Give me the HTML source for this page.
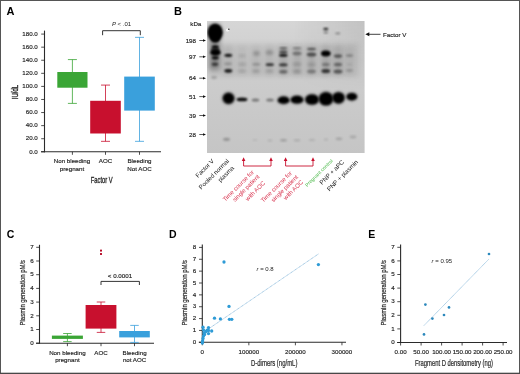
<!DOCTYPE html>
<html><head><meta charset="utf-8"><title>Figure</title>
<style>html,body{margin:0;padding:0;background:#fff}body{width:520px;height:374px;overflow:hidden}svg{display:block}</style>
</head><body>
<svg width="520" height="374" viewBox="0 0 520 374" font-family="Liberation Sans, sans-serif">
<defs>
<filter id="b1" x="-50%" y="-50%" width="200%" height="200%"><feGaussianBlur stdDeviation="0.9"/></filter>
<filter id="b2" x="-50%" y="-50%" width="200%" height="200%"><feGaussianBlur stdDeviation="1.4"/></filter>
<filter id="b3" x="-50%" y="-50%" width="200%" height="200%"><feGaussianBlur stdDeviation="2.5"/></filter>
<filter id="b0" x="-50%" y="-50%" width="200%" height="200%"><feGaussianBlur stdDeviation="0.6"/></filter>
<linearGradient id="bg" x1="0" y1="0" x2="0" y2="1"><stop offset="0" stop-color="#d6d6d6"/><stop offset="0.3" stop-color="#cecece"/><stop offset="1" stop-color="#c5c5c5"/></linearGradient>
<clipPath id="bc"><rect x="207" y="21" width="157.6" height="132"/></clipPath>
<linearGradient id="bgr" x1="0" y1="0" x2="1" y2="0"><stop offset="0" stop-color="#000" stop-opacity="0"/><stop offset="0.55" stop-color="#000" stop-opacity="0"/><stop offset="1" stop-color="#000" stop-opacity="0.09"/></linearGradient>
<linearGradient id="bgm" x1="0" y1="0" x2="0" y2="1"><stop offset="0" stop-color="#fff" stop-opacity="1"/><stop offset="1" stop-color="#fff" stop-opacity="0"/></linearGradient>
<mask id="mk"><rect x="207" y="21" width="157.6" height="70" fill="url(#bgm)"/></mask>
</defs>
<rect x="0" y="0" width="520" height="374" fill="#fff"/>
<text x="6.6" y="14.6" font-size="11" text-anchor="start" fill="#000" font-weight="bold">A</text>
<line x1="44.5" y1="30.6" x2="44.5" y2="152.35000000000002" stroke="#2b2b2b" stroke-width="1.1"/>
<line x1="41.0" y1="151.8" x2="161" y2="151.8" stroke="#2b2b2b" stroke-width="1.1"/>
<line x1="41.2" y1="151.8" x2="44.5" y2="151.8" stroke="#222" stroke-width="0.8"/>
<text x="37.8" y="153.55" font-size="6.2" text-anchor="end" fill="#222" stroke="#222" stroke-width="0.15">0.0</text>
<line x1="41.2" y1="138.72" x2="44.5" y2="138.72" stroke="#222" stroke-width="0.8"/>
<text x="37.8" y="140.47" font-size="6.2" text-anchor="end" fill="#222" stroke="#222" stroke-width="0.15">20.0</text>
<line x1="41.2" y1="125.64" x2="44.5" y2="125.64" stroke="#222" stroke-width="0.8"/>
<text x="37.8" y="127.39" font-size="6.2" text-anchor="end" fill="#222" stroke="#222" stroke-width="0.15">40.0</text>
<line x1="41.2" y1="112.56" x2="44.5" y2="112.56" stroke="#222" stroke-width="0.8"/>
<text x="37.8" y="114.31" font-size="6.2" text-anchor="end" fill="#222" stroke="#222" stroke-width="0.15">60.0</text>
<line x1="41.2" y1="99.48" x2="44.5" y2="99.48" stroke="#222" stroke-width="0.8"/>
<text x="37.8" y="101.23" font-size="6.2" text-anchor="end" fill="#222" stroke="#222" stroke-width="0.15">80.0</text>
<line x1="41.2" y1="86.4" x2="44.5" y2="86.4" stroke="#222" stroke-width="0.8"/>
<text x="37.8" y="88.15" font-size="6.2" text-anchor="end" fill="#222" stroke="#222" stroke-width="0.15">100.0</text>
<line x1="41.2" y1="73.32" x2="44.5" y2="73.32" stroke="#222" stroke-width="0.8"/>
<text x="37.8" y="75.07" font-size="6.2" text-anchor="end" fill="#222" stroke="#222" stroke-width="0.15">120.0</text>
<line x1="41.2" y1="60.24" x2="44.5" y2="60.24" stroke="#222" stroke-width="0.8"/>
<text x="37.8" y="61.99" font-size="6.2" text-anchor="end" fill="#222" stroke="#222" stroke-width="0.15">140.0</text>
<line x1="41.2" y1="47.16" x2="44.5" y2="47.16" stroke="#222" stroke-width="0.8"/>
<text x="37.8" y="48.91" font-size="6.2" text-anchor="end" fill="#222" stroke="#222" stroke-width="0.15">160.0</text>
<line x1="41.2" y1="34.08" x2="44.5" y2="34.08" stroke="#222" stroke-width="0.8"/>
<text x="37.8" y="35.83" font-size="6.2" text-anchor="end" fill="#222" stroke="#222" stroke-width="0.15">180.0</text>
<line x1="72.4" y1="151.8" x2="72.4" y2="154.8" stroke="#222" stroke-width="0.8"/>
<line x1="105.5" y1="151.8" x2="105.5" y2="154.8" stroke="#222" stroke-width="0.8"/>
<line x1="139.5" y1="151.8" x2="139.5" y2="154.8" stroke="#222" stroke-width="0.8"/>
<line x1="72.4" y1="59.59" x2="72.4" y2="103.4" stroke="#3aa535" stroke-width="0.8"/>
<line x1="67.9" y1="59.59" x2="76.9" y2="59.59" stroke="#3aa535" stroke-width="0.8"/>
<line x1="67.9" y1="103.4" x2="76.9" y2="103.4" stroke="#3aa535" stroke-width="0.8"/>
<rect x="57.300000000000004" y="72.01" width="30.2" height="15.699999999999989" fill="#3aa535"/>
<line x1="105.5" y1="85.09" x2="105.5" y2="141.34" stroke="#c8102e" stroke-width="0.8"/>
<line x1="101.0" y1="85.09" x2="110.0" y2="85.09" stroke="#c8102e" stroke-width="0.8"/>
<line x1="101.0" y1="141.34" x2="110.0" y2="141.34" stroke="#c8102e" stroke-width="0.8"/>
<rect x="90.2" y="100.79" width="30.6" height="32.7" fill="#c8102e"/>
<line x1="139.5" y1="37.35" x2="139.5" y2="141.34" stroke="#3aa0dc" stroke-width="0.8"/>
<line x1="135.0" y1="37.35" x2="144.0" y2="37.35" stroke="#3aa0dc" stroke-width="0.8"/>
<line x1="135.0" y1="141.34" x2="144.0" y2="141.34" stroke="#3aa0dc" stroke-width="0.8"/>
<rect x="124.2" y="76.59" width="30.6" height="34.00999999999999" fill="#3aa0dc"/>
<path d="M102.6 35.2V30.7H140.3V35.2" fill="none" stroke="#2a2a2a" stroke-width="0.95"/>
<text x="121.5" y="26" font-size="6" text-anchor="middle" fill="#222"><tspan font-style="italic">P</tspan> &lt; .01</text>
<text x="72" y="163.3" font-size="6.2" text-anchor="middle" fill="#222" stroke="#222" stroke-width="0.15">Non bleeding</text>
<text x="72" y="171.3" font-size="6.2" text-anchor="middle" fill="#222" stroke="#222" stroke-width="0.15">pregnant</text>
<text x="105.5" y="163.3" font-size="6.2" text-anchor="middle" fill="#222" stroke="#222" stroke-width="0.15">AOC</text>
<text x="139.5" y="163.3" font-size="6.2" text-anchor="middle" fill="#222" stroke="#222" stroke-width="0.15">Bleeding</text>
<text x="139.5" y="171.3" font-size="6.2" text-anchor="middle" fill="#222" stroke="#222" stroke-width="0.15">Not AOC</text>
<text x="101.7" y="183.3" font-size="8.4" text-anchor="middle" fill="#2e2e2e" stroke="#2e2e2e" stroke-width="0.35" textLength="21.8" lengthAdjust="spacingAndGlyphs">Factor V</text>
<text x="17.5" y="92" font-size="8.4" text-anchor="middle" fill="#2e2e2e" stroke="#2e2e2e" stroke-width="0.4" textLength="14.5" lengthAdjust="spacingAndGlyphs" transform="rotate(-90 17.5 92)">IU/dL</text>
<text x="174" y="14.6" font-size="11" text-anchor="start" fill="#000" font-weight="bold">B</text>
<text x="195.8" y="26.2" font-size="6.2" text-anchor="middle" fill="#222" stroke="#222" stroke-width="0.15">kDa</text>
<text x="196" y="42.5" font-size="6.2" text-anchor="end" fill="#222" stroke="#222" stroke-width="0.15">198</text>
<line x1="199.3" y1="40.5" x2="203.5" y2="40.5" stroke="#111" stroke-width="0.7"/>
<path d="M206 40.5L203 39.2V41.8Z" fill="#111"/>
<text x="196" y="58.8" font-size="6.2" text-anchor="end" fill="#222" stroke="#222" stroke-width="0.15">97</text>
<line x1="199.3" y1="56.8" x2="203.5" y2="56.8" stroke="#111" stroke-width="0.7"/>
<path d="M206 56.8L203 55.5V58.099999999999994Z" fill="#111"/>
<text x="196" y="80.2" font-size="6.2" text-anchor="end" fill="#222" stroke="#222" stroke-width="0.15">64</text>
<line x1="199.3" y1="78.2" x2="203.5" y2="78.2" stroke="#111" stroke-width="0.7"/>
<path d="M206 78.2L203 76.9V79.5Z" fill="#111"/>
<text x="196" y="98.6" font-size="6.2" text-anchor="end" fill="#222" stroke="#222" stroke-width="0.15">51</text>
<line x1="199.3" y1="96.6" x2="203.5" y2="96.6" stroke="#111" stroke-width="0.7"/>
<path d="M206 96.6L203 95.3V97.89999999999999Z" fill="#111"/>
<text x="196" y="117.5" font-size="6.2" text-anchor="end" fill="#222" stroke="#222" stroke-width="0.15">39</text>
<line x1="199.3" y1="115.5" x2="203.5" y2="115.5" stroke="#111" stroke-width="0.7"/>
<path d="M206 115.5L203 114.2V116.8Z" fill="#111"/>
<text x="196" y="136.5" font-size="6.2" text-anchor="end" fill="#222" stroke="#222" stroke-width="0.15">28</text>
<line x1="199.3" y1="134.5" x2="203.5" y2="134.5" stroke="#111" stroke-width="0.7"/>
<path d="M206 134.5L203 133.2V135.8Z" fill="#111"/>
<rect x="207" y="21" width="157.6" height="132" fill="url(#bg)"/>
<rect x="207" y="21" width="157.6" height="70" fill="url(#bgr)" mask="url(#mk)"/>
<g clip-path="url(#bc)">
<rect x="209" y="43" width="150" height="34" fill="#000" opacity="0.06" filter="url(#b3)"/>
<rect x="223.5" y="46" width="9" height="29" fill="#000" opacity="0.07" filter="url(#b3)"/>
<rect x="237.5" y="46" width="9" height="29" fill="#000" opacity="0.04" filter="url(#b3)"/>
<rect x="251.5" y="46" width="9" height="29" fill="#000" opacity="0.05" filter="url(#b3)"/>
<rect x="265.0" y="46" width="9" height="29" fill="#000" opacity="0.06" filter="url(#b3)"/>
<rect x="279.0" y="46" width="9" height="29" fill="#000" opacity="0.12" filter="url(#b3)"/>
<rect x="292.5" y="46" width="9" height="29" fill="#000" opacity="0.1" filter="url(#b3)"/>
<rect x="307.0" y="46" width="9" height="29" fill="#000" opacity="0.11" filter="url(#b3)"/>
<rect x="321.3" y="46" width="9" height="29" fill="#000" opacity="0.12" filter="url(#b3)"/>
<rect x="333.5" y="46" width="9" height="29" fill="#000" opacity="0.1" filter="url(#b3)"/>
<rect x="345.0" y="46" width="9" height="29" fill="#000" opacity="0.05" filter="url(#b3)"/>
<rect x="209.0" y="24" width="11" height="46" fill="#000" opacity="0.3" filter="url(#b3)"/>
<ellipse cx="215.2" cy="32.6" rx="7.4" ry="8.6" fill="#000" opacity="1" filter="url(#b2)"/>
<ellipse cx="215.2" cy="32.3" rx="6.6" ry="7.8" fill="#000" opacity="1" filter="url(#b1)"/>
<ellipse cx="215.3" cy="38" rx="4.5" ry="4.5" fill="#000" opacity="0.9" filter="url(#b1)"/>
<ellipse cx="215.3" cy="46.9" rx="3.4" ry="1.6" fill="#000" opacity="0.95" filter="url(#b1)"/>
<ellipse cx="215.3" cy="49.8" rx="4.2" ry="2.5" fill="#000" opacity="0.6" filter="url(#b1)"/>
<ellipse cx="215.5" cy="52.5" rx="5.2" ry="3.3" fill="#000" opacity="1" filter="url(#b1)"/>
<ellipse cx="215.3" cy="57.8" rx="3.5" ry="1.8" fill="#000" opacity="0.9" filter="url(#b1)"/>
<ellipse cx="215" cy="64.3" rx="3.3" ry="1.7" fill="#000" opacity="0.6" filter="url(#b1)"/>
<ellipse cx="214" cy="77.5" rx="3" ry="1.4" fill="#000" opacity="0.2" filter="url(#b1)"/>
<ellipse cx="228.3" cy="55.3" rx="4.0" ry="1.6" fill="#000" opacity="0.9" filter="url(#b1)"/>
<ellipse cx="228" cy="63.8" rx="4" ry="1.4" fill="#000" opacity="0.2" filter="url(#b1)"/>
<ellipse cx="228.3" cy="70.8" rx="4.0" ry="1.9" fill="#000" opacity="0.88" filter="url(#b1)"/>
<ellipse cx="228.5" cy="98.3" rx="5.4" ry="5.2" fill="#000" opacity="1" filter="url(#b1)"/>
<ellipse cx="228.5" cy="98.3" rx="6.4" ry="6.2" fill="#000" opacity="0.5" filter="url(#b2)"/>
<ellipse cx="226.5" cy="139.3" rx="3.5" ry="1.6" fill="#000" opacity="0.26" filter="url(#b1)"/>
<ellipse cx="227.5" cy="30" rx="1.6" ry="1.6" fill="#f4f4f4" opacity="1" filter="url(#b0)"/>
<ellipse cx="228.8" cy="29.2" rx="0.9" ry="0.7" fill="#000" opacity="0.7" filter="url(#b0)"/>
<ellipse cx="242" cy="55.8" rx="4" ry="1.3" fill="#000" opacity="0.12" filter="url(#b2)"/>
<ellipse cx="242.3" cy="64.3" rx="4.2" ry="1.5" fill="#000" opacity="0.14" filter="url(#b2)"/>
<ellipse cx="242" cy="71.0" rx="4" ry="1.5" fill="#000" opacity="0.14" filter="url(#b2)"/>
<ellipse cx="242" cy="99.4" rx="5.4" ry="1.9" fill="#000" opacity="0.95" filter="url(#b1)"/>
<ellipse cx="256.5" cy="53.5" rx="3.4" ry="2.4" fill="#000" opacity="0.2" filter="url(#b2)"/>
<ellipse cx="256.3" cy="64.3" rx="4" ry="1.5" fill="#000" opacity="0.2" filter="url(#b1)"/>
<ellipse cx="256" cy="71.0" rx="3.8" ry="1.6" fill="#000" opacity="0.18" filter="url(#b2)"/>
<ellipse cx="255.5" cy="100" rx="3.8" ry="1.6" fill="#000" opacity="0.42" filter="url(#b1)"/>
<ellipse cx="255" cy="140" rx="2.5" ry="1" fill="#000" opacity="0.08" filter="url(#b1)"/>
<ellipse cx="269.5" cy="52.5" rx="3.8" ry="2.6" fill="#000" opacity="0.2" filter="url(#b2)"/>
<ellipse cx="269.8" cy="64.7" rx="4.2" ry="1.4" fill="#000" opacity="0.75" filter="url(#b1)"/>
<ellipse cx="269.5" cy="71.0" rx="4" ry="1.6" fill="#000" opacity="0.16" filter="url(#b2)"/>
<ellipse cx="270" cy="100" rx="3.8" ry="1.6" fill="#000" opacity="0.42" filter="url(#b1)"/>
<ellipse cx="270" cy="140.5" rx="2.5" ry="1" fill="#000" opacity="0.12" filter="url(#b1)"/>
<ellipse cx="283.3" cy="48.3" rx="4.0" ry="1.1" fill="#000" opacity="0.5" filter="url(#b1)"/>
<ellipse cx="283.3" cy="52.1" rx="4.2" ry="1.4" fill="#000" opacity="0.65" filter="url(#b1)"/>
<ellipse cx="283.3" cy="55.2" rx="4.3" ry="1.5" fill="#000" opacity="0.9" filter="url(#b1)"/>
<ellipse cx="283.3" cy="64.7" rx="4.3" ry="1.5" fill="#000" opacity="0.7" filter="url(#b1)"/>
<ellipse cx="283.3" cy="71.7" rx="4.2" ry="1.8" fill="#000" opacity="0.42" filter="url(#b1)"/>
<ellipse cx="283.6" cy="100.2" rx="5.8" ry="3.6" fill="#000" opacity="1" filter="url(#b1)"/>
<ellipse cx="283.6" cy="100.2" rx="6.8" ry="4.8" fill="#000" opacity="0.25" filter="url(#b2)"/>
<ellipse cx="283.5" cy="140.3" rx="3.4" ry="1.2" fill="#000" opacity="0.2" filter="url(#b1)"/>
<ellipse cx="297" cy="48.2" rx="4.4" ry="1.0" fill="#000" opacity="0.35" filter="url(#b1)"/>
<ellipse cx="297" cy="53.5" rx="4.6" ry="1.9" fill="#000" opacity="0.35" filter="url(#b1)"/>
<ellipse cx="297" cy="64.2" rx="4.4" ry="1.6" fill="#000" opacity="0.16" filter="url(#b2)"/>
<ellipse cx="297" cy="71.5" rx="4.2" ry="1.7" fill="#000" opacity="0.18" filter="url(#b2)"/>
<ellipse cx="297" cy="99.7" rx="6.3" ry="3.9" fill="#000" opacity="1" filter="url(#b1)"/>
<ellipse cx="297" cy="99.7" rx="7.2" ry="5" fill="#000" opacity="0.25" filter="url(#b2)"/>
<ellipse cx="297" cy="140.3" rx="3.4" ry="1.1" fill="#000" opacity="0.14" filter="url(#b1)"/>
<ellipse cx="311.5" cy="49.0" rx="4.6" ry="1.1" fill="#000" opacity="0.6" filter="url(#b1)"/>
<ellipse cx="311.5" cy="54.5" rx="4.8" ry="2" fill="#000" opacity="0.55" filter="url(#b1)"/>
<ellipse cx="311.5" cy="64.5" rx="4.2" ry="1.6" fill="#000" opacity="0.16" filter="url(#b2)"/>
<ellipse cx="311.5" cy="71.5" rx="4.4" ry="1.9" fill="#000" opacity="0.3" filter="url(#b1)"/>
<ellipse cx="312" cy="99.6" rx="6.7" ry="5.0" fill="#000" opacity="1" filter="url(#b1)"/>
<ellipse cx="312" cy="99.6" rx="7.6" ry="6" fill="#000" opacity="0.3" filter="url(#b2)"/>
<ellipse cx="312" cy="140" rx="3.2" ry="1.1" fill="#000" opacity="0.12" filter="url(#b1)"/>
<ellipse cx="325.8" cy="29" rx="2.6" ry="1.2" fill="#000" opacity="0.8" filter="url(#b1)"/>
<ellipse cx="325.8" cy="32.6" rx="2.4" ry="1" fill="#000" opacity="0.42" filter="url(#b1)"/>
<ellipse cx="325.8" cy="53.5" rx="4.8" ry="3" fill="#000" opacity="1" filter="url(#b1)"/>
<ellipse cx="325.8" cy="64.5" rx="4" ry="1.8" fill="#000" opacity="0.3" filter="url(#b1)"/>
<ellipse cx="325.8" cy="71.1" rx="4.4" ry="2" fill="#000" opacity="0.7" filter="url(#b1)"/>
<ellipse cx="326" cy="98.8" rx="7.1" ry="6.5" fill="#000" opacity="1" filter="url(#b1)"/>
<ellipse cx="326" cy="98.8" rx="8" ry="7.5" fill="#000" opacity="0.35" filter="url(#b2)"/>
<ellipse cx="326" cy="139.5" rx="2.2" ry="1" fill="#000" opacity="0.12" filter="url(#b1)"/>
<ellipse cx="337.8" cy="33.4" rx="2.6" ry="0.9" fill="#000" opacity="0.38" filter="url(#b1)"/>
<ellipse cx="338" cy="56.1" rx="4.2" ry="1.8" fill="#000" opacity="0.5" filter="url(#b1)"/>
<ellipse cx="338" cy="64.5" rx="4.2" ry="1.8" fill="#000" opacity="0.42" filter="url(#b1)"/>
<ellipse cx="338" cy="71.5" rx="4.4" ry="2" fill="#000" opacity="0.5" filter="url(#b1)"/>
<ellipse cx="338.5" cy="97.8" rx="6" ry="5.6" fill="#000" opacity="1" filter="url(#b1)"/>
<ellipse cx="338.5" cy="97.8" rx="7" ry="6.6" fill="#000" opacity="0.3" filter="url(#b2)"/>
<ellipse cx="339" cy="138.8" rx="3.4" ry="1.4" fill="#000" opacity="0.17" filter="url(#b1)"/>
<ellipse cx="349.5" cy="55.5" rx="3.6" ry="1.5" fill="#000" opacity="0.25" filter="url(#b1)"/>
<ellipse cx="349.5" cy="64.5" rx="3" ry="1.2" fill="#000" opacity="0.08" filter="url(#b1)"/>
<ellipse cx="349.5" cy="70.5" rx="3.4" ry="1.4" fill="#000" opacity="0.18" filter="url(#b1)"/>
<ellipse cx="351.8" cy="96.7" rx="5.3" ry="3.7" fill="#000" opacity="1" filter="url(#b1)"/>
<ellipse cx="351.8" cy="96.7" rx="6.3" ry="4.8" fill="#000" opacity="0.25" filter="url(#b2)"/>
<ellipse cx="353" cy="137" rx="3.4" ry="1.4" fill="#000" opacity="0.15" filter="url(#b1)"/>
</g>
<line x1="368" y1="34.3" x2="380.5" y2="34.3" stroke="#111" stroke-width="0.8"/>
<path d="M365.3 34.3L369.3 32.3V36.3Z" fill="#111"/>
<text x="383" y="36.5" font-size="6.2" text-anchor="start" fill="#222" stroke="#222" stroke-width="0.15">Factor V</text>
<text x="214.5" y="161.5" font-size="6.2" text-anchor="end" fill="#222" transform="rotate(-45 214.5 161.5)">Factor V</text>
<text x="229.5" y="161.5" font-size="6.2" text-anchor="end" fill="#222" transform="rotate(-45 229.5 161.5)">Pooled normal</text>
<text x="234.5" y="168.5" font-size="6.2" text-anchor="end" fill="#222" transform="rotate(-45 234.5 168.5)">plasma</text>
<text x="254.5" y="172.5" font-size="6" text-anchor="end" fill="#d83550" transform="rotate(-45 254.5 172.5)">Time course for</text>
<text x="260" y="177" font-size="6" text-anchor="end" fill="#d83550" transform="rotate(-45 260 177)">single patient</text>
<text x="265.5" y="183.5" font-size="6" text-anchor="end" fill="#d83550" transform="rotate(-45 265.5 183.5)">with AOC</text>
<text x="292.5" y="173.5" font-size="6" text-anchor="end" fill="#d83550" transform="rotate(-45 292.5 173.5)">Time course for</text>
<text x="298.5" y="177.5" font-size="6" text-anchor="end" fill="#d83550" transform="rotate(-45 298.5 177.5)">single patient</text>
<text x="303.5" y="182.5" font-size="6" text-anchor="end" fill="#d83550" transform="rotate(-45 303.5 182.5)">with AOC</text>
<text x="333.2" y="161.2" font-size="5" text-anchor="end" fill="#4ab848" transform="rotate(-45 333.2 161.2)">Pregnant control</text>
<text x="344.5" y="162.5" font-size="6.2" text-anchor="end" fill="#222" transform="rotate(-45 344.5 162.5)">PNP + aPC</text>
<text x="358.5" y="162.5" font-size="6.2" text-anchor="end" fill="#222" transform="rotate(-45 358.5 162.5)">PNP + plasmin</text>
<path d="M243.6 160V166H271V160" fill="none" stroke="#c8102e" stroke-width="0.9"/>
<path d="M243.6 157.3L241.79999999999998 161H245.4Z" fill="#c8102e"/>
<path d="M271 157.3L269.2 161H272.8Z" fill="#c8102e"/>
<path d="M285.6 160V166H313V160" fill="none" stroke="#c8102e" stroke-width="0.9"/>
<path d="M285.6 157.3L283.8 161H287.40000000000003Z" fill="#c8102e"/>
<path d="M313 157.3L311.2 161H314.8Z" fill="#c8102e"/>
<text x="6.8" y="238" font-size="10.5" text-anchor="start" fill="#000" font-weight="bold">C</text>
<line x1="39.5" y1="244.8" x2="39.5" y2="343.75" stroke="#2b2b2b" stroke-width="1.1"/>
<line x1="36.0" y1="343.2" x2="154" y2="343.2" stroke="#2b2b2b" stroke-width="1.1"/>
<line x1="36.2" y1="343.2" x2="39.5" y2="343.2" stroke="#222" stroke-width="0.8"/>
<text x="33.6" y="344.95" font-size="6.2" text-anchor="end" fill="#222" stroke="#222" stroke-width="0.15">0</text>
<line x1="36.2" y1="329.5" x2="39.5" y2="329.5" stroke="#222" stroke-width="0.8"/>
<text x="33.6" y="331.25" font-size="6.2" text-anchor="end" fill="#222" stroke="#222" stroke-width="0.15">1</text>
<line x1="36.2" y1="315.8" x2="39.5" y2="315.8" stroke="#222" stroke-width="0.8"/>
<text x="33.6" y="317.55" font-size="6.2" text-anchor="end" fill="#222" stroke="#222" stroke-width="0.15">2</text>
<line x1="36.2" y1="302.1" x2="39.5" y2="302.1" stroke="#222" stroke-width="0.8"/>
<text x="33.6" y="303.85" font-size="6.2" text-anchor="end" fill="#222" stroke="#222" stroke-width="0.15">3</text>
<line x1="36.2" y1="288.4" x2="39.5" y2="288.4" stroke="#222" stroke-width="0.8"/>
<text x="33.6" y="290.15" font-size="6.2" text-anchor="end" fill="#222" stroke="#222" stroke-width="0.15">4</text>
<line x1="36.2" y1="274.7" x2="39.5" y2="274.7" stroke="#222" stroke-width="0.8"/>
<text x="33.6" y="276.45" font-size="6.2" text-anchor="end" fill="#222" stroke="#222" stroke-width="0.15">5</text>
<line x1="36.2" y1="261.0" x2="39.5" y2="261.0" stroke="#222" stroke-width="0.8"/>
<text x="33.6" y="262.75" font-size="6.2" text-anchor="end" fill="#222" stroke="#222" stroke-width="0.15">6</text>
<line x1="36.2" y1="247.3" x2="39.5" y2="247.3" stroke="#222" stroke-width="0.8"/>
<text x="33.6" y="249.05" font-size="6.2" text-anchor="end" fill="#222" stroke="#222" stroke-width="0.15">7</text>
<line x1="67.4" y1="343.2" x2="67.4" y2="346.2" stroke="#222" stroke-width="0.8"/>
<line x1="101" y1="343.2" x2="101" y2="346.2" stroke="#222" stroke-width="0.8"/>
<line x1="134.5" y1="343.2" x2="134.5" y2="346.2" stroke="#222" stroke-width="0.8"/>
<line x1="67.4" y1="333.5" x2="67.4" y2="341.6" stroke="#3aa535" stroke-width="0.8"/>
<line x1="63.150000000000006" y1="333.5" x2="71.65" y2="333.5" stroke="#3aa535" stroke-width="0.8"/>
<line x1="63.150000000000006" y1="341.6" x2="71.65" y2="341.6" stroke="#3aa535" stroke-width="0.8"/>
<rect x="51.900000000000006" y="335.6" width="31" height="3.2999999999999545" fill="#3aa535"/>
<line x1="101" y1="302" x2="101" y2="332.4" stroke="#c8102e" stroke-width="0.8"/>
<line x1="96.75" y1="302" x2="105.25" y2="302" stroke="#c8102e" stroke-width="0.8"/>
<line x1="96.75" y1="332.4" x2="105.25" y2="332.4" stroke="#c8102e" stroke-width="0.8"/>
<rect x="85.6" y="305" width="30.8" height="23.600000000000023" fill="#c8102e"/>
<line x1="134.5" y1="325.4" x2="134.5" y2="342.4" stroke="#3aa0dc" stroke-width="0.8"/>
<line x1="130.25" y1="325.4" x2="138.75" y2="325.4" stroke="#3aa0dc" stroke-width="0.8"/>
<line x1="130.25" y1="342.4" x2="138.75" y2="342.4" stroke="#3aa0dc" stroke-width="0.8"/>
<rect x="119.2" y="331" width="30.6" height="6.399999999999977" fill="#3aa0dc"/>
<rect x="100.05" y="249.65" width="1.9" height="1.9" fill="#b4001e"/>
<rect x="100.05" y="253.05" width="1.9" height="1.9" fill="#b4001e"/>
<path d="M101 285V281.4H139.4V285" fill="none" stroke="#2a2a2a" stroke-width="0.95"/>
<text x="120" y="277.7" font-size="6.2" text-anchor="middle" fill="#222" stroke="#222" stroke-width="0.15">&lt; 0.0001</text>
<text x="67.4" y="355" font-size="6.2" text-anchor="middle" fill="#222" stroke="#222" stroke-width="0.15">Non bleeding</text>
<text x="67.4" y="362.4" font-size="6.2" text-anchor="middle" fill="#222" stroke="#222" stroke-width="0.15">pregnant</text>
<text x="101" y="355" font-size="6.2" text-anchor="middle" fill="#222" stroke="#222" stroke-width="0.15">AOC</text>
<text x="134.6" y="355" font-size="6.2" text-anchor="middle" fill="#222" stroke="#222" stroke-width="0.15">Bleeding</text>
<text x="134.6" y="362.4" font-size="6.2" text-anchor="middle" fill="#222" stroke="#222" stroke-width="0.15">not AOC</text>
<text x="25.2" y="292.7" font-size="8.1" text-anchor="middle" fill="#2e2e2e" stroke="#2e2e2e" stroke-width="0.22" textLength="65.5" lengthAdjust="spacingAndGlyphs" transform="rotate(-90 25.2 292.7)">Plasmin generation pM/s</text>
<text x="169" y="238" font-size="10.5" text-anchor="start" fill="#000" font-weight="bold">D</text>
<line x1="202.3" y1="244.6" x2="202.3" y2="342.85" stroke="#2b2b2b" stroke-width="1.1"/>
<line x1="198.8" y1="342.3" x2="346" y2="342.3" stroke="#2b2b2b" stroke-width="1.1"/>
<line x1="199.0" y1="342.3" x2="202.3" y2="342.3" stroke="#222" stroke-width="0.8"/>
<text x="196.2" y="344.05" font-size="6.2" text-anchor="end" fill="#222" stroke="#222" stroke-width="0.15">0</text>
<line x1="199.0" y1="330.44" x2="202.3" y2="330.44" stroke="#222" stroke-width="0.8"/>
<text x="196.2" y="332.19" font-size="6.2" text-anchor="end" fill="#222" stroke="#222" stroke-width="0.15">1</text>
<line x1="199.0" y1="318.58" x2="202.3" y2="318.58" stroke="#222" stroke-width="0.8"/>
<text x="196.2" y="320.33" font-size="6.2" text-anchor="end" fill="#222" stroke="#222" stroke-width="0.15">2</text>
<line x1="199.0" y1="306.72" x2="202.3" y2="306.72" stroke="#222" stroke-width="0.8"/>
<text x="196.2" y="308.47" font-size="6.2" text-anchor="end" fill="#222" stroke="#222" stroke-width="0.15">3</text>
<line x1="199.0" y1="294.86" x2="202.3" y2="294.86" stroke="#222" stroke-width="0.8"/>
<text x="196.2" y="296.61" font-size="6.2" text-anchor="end" fill="#222" stroke="#222" stroke-width="0.15">4</text>
<line x1="199.0" y1="283.0" x2="202.3" y2="283.0" stroke="#222" stroke-width="0.8"/>
<text x="196.2" y="284.75" font-size="6.2" text-anchor="end" fill="#222" stroke="#222" stroke-width="0.15">5</text>
<line x1="199.0" y1="271.14" x2="202.3" y2="271.14" stroke="#222" stroke-width="0.8"/>
<text x="196.2" y="272.89" font-size="6.2" text-anchor="end" fill="#222" stroke="#222" stroke-width="0.15">6</text>
<line x1="199.0" y1="259.28" x2="202.3" y2="259.28" stroke="#222" stroke-width="0.8"/>
<text x="196.2" y="261.03" font-size="6.2" text-anchor="end" fill="#222" stroke="#222" stroke-width="0.15">7</text>
<line x1="199.0" y1="247.42" x2="202.3" y2="247.42" stroke="#222" stroke-width="0.8"/>
<text x="196.2" y="249.17" font-size="6.2" text-anchor="end" fill="#222" stroke="#222" stroke-width="0.15">8</text>
<line x1="202.3" y1="342.3" x2="202.3" y2="345.3" stroke="#222" stroke-width="0.8"/>
<text x="202.3" y="354.1" font-size="6.2" text-anchor="middle" fill="#222" stroke="#222" stroke-width="0.15">0</text>
<line x1="248.85" y1="342.3" x2="248.85" y2="345.3" stroke="#222" stroke-width="0.8"/>
<text x="248.85" y="354.1" font-size="6.2" text-anchor="middle" fill="#222" stroke="#222" stroke-width="0.15">100000</text>
<line x1="295.4" y1="342.3" x2="295.4" y2="345.3" stroke="#222" stroke-width="0.8"/>
<text x="295.4" y="354.1" font-size="6.2" text-anchor="middle" fill="#222" stroke="#222" stroke-width="0.15">200000</text>
<line x1="341.95" y1="342.3" x2="341.95" y2="345.3" stroke="#222" stroke-width="0.8"/>
<text x="341.95" y="354.1" font-size="6.2" text-anchor="middle" fill="#222" stroke="#222" stroke-width="0.15">300000</text>
<line x1="202.5" y1="333" x2="318.4" y2="254" stroke="#4a94c8" stroke-width="0.6" stroke-dasharray="1 0.6"/>
<circle cx="224" cy="262" r="1.65" fill="#2e9bd6"/>
<circle cx="318.4" cy="264.6" r="1.65" fill="#2e9bd6"/>
<circle cx="229" cy="306.4" r="1.65" fill="#2e9bd6"/>
<circle cx="214.5" cy="318.2" r="1.65" fill="#2e9bd6"/>
<circle cx="220.4" cy="318.9" r="1.65" fill="#2e9bd6"/>
<circle cx="229.4" cy="319.3" r="1.65" fill="#2e9bd6"/>
<circle cx="231.8" cy="319.3" r="1.65" fill="#2e9bd6"/>
<circle cx="208.5" cy="327.6" r="1.65" fill="#2e9bd6"/>
<circle cx="208.5" cy="330.5" r="1.65" fill="#2e9bd6"/>
<circle cx="211.7" cy="331" r="1.65" fill="#2e9bd6"/>
<circle cx="208.5" cy="333.6" r="1.65" fill="#2e9bd6"/>
<circle cx="207.2" cy="330.2" r="1.65" fill="#2e9bd6"/>
<circle cx="203" cy="327.2" r="1.65" fill="#2e9bd6"/>
<circle cx="203.5" cy="330" r="1.65" fill="#2e9bd6"/>
<circle cx="204" cy="333" r="1.65" fill="#2e9bd6"/>
<circle cx="203.5" cy="336" r="1.65" fill="#2e9bd6"/>
<circle cx="203" cy="338.5" r="1.65" fill="#2e9bd6"/>
<circle cx="202.6" cy="341" r="1.65" fill="#2e9bd6"/>
<circle cx="202.4" cy="343" r="1.65" fill="#2e9bd6"/>
<circle cx="204.6" cy="334.5" r="1.65" fill="#2e9bd6"/>
<circle cx="206" cy="331.5" r="1.65" fill="#2e9bd6"/>
<text x="256.5" y="271.4" font-size="6" fill="#222"><tspan font-style="italic">r</tspan> = 0.8</text>
<text x="274.2" y="365.9" font-size="8.4" text-anchor="middle" fill="#2e2e2e" stroke="#2e2e2e" stroke-width="0.22" textLength="46.5" lengthAdjust="spacingAndGlyphs">D-dimers (ng/mL)</text>
<text x="187.4" y="292.7" font-size="8.1" text-anchor="middle" fill="#2e2e2e" stroke="#2e2e2e" stroke-width="0.22" textLength="65.5" lengthAdjust="spacingAndGlyphs" transform="rotate(-90 187.4 292.7)">Plasmin generation pM/s</text>
<text x="368.2" y="238" font-size="10.5" text-anchor="start" fill="#000" font-weight="bold">E</text>
<line x1="400.6" y1="244.4" x2="400.6" y2="343.05" stroke="#2b2b2b" stroke-width="1.1"/>
<line x1="397.1" y1="342.5" x2="507" y2="342.5" stroke="#2b2b2b" stroke-width="1.1"/>
<line x1="397.3" y1="342.5" x2="400.6" y2="342.5" stroke="#222" stroke-width="0.8"/>
<text x="394.6" y="344.25" font-size="6.2" text-anchor="end" fill="#222" stroke="#222" stroke-width="0.15">0</text>
<line x1="397.3" y1="328.9" x2="400.6" y2="328.9" stroke="#222" stroke-width="0.8"/>
<text x="394.6" y="330.65" font-size="6.2" text-anchor="end" fill="#222" stroke="#222" stroke-width="0.15">1</text>
<line x1="397.3" y1="315.3" x2="400.6" y2="315.3" stroke="#222" stroke-width="0.8"/>
<text x="394.6" y="317.05" font-size="6.2" text-anchor="end" fill="#222" stroke="#222" stroke-width="0.15">2</text>
<line x1="397.3" y1="301.7" x2="400.6" y2="301.7" stroke="#222" stroke-width="0.8"/>
<text x="394.6" y="303.45" font-size="6.2" text-anchor="end" fill="#222" stroke="#222" stroke-width="0.15">3</text>
<line x1="397.3" y1="288.1" x2="400.6" y2="288.1" stroke="#222" stroke-width="0.8"/>
<text x="394.6" y="289.85" font-size="6.2" text-anchor="end" fill="#222" stroke="#222" stroke-width="0.15">4</text>
<line x1="397.3" y1="274.5" x2="400.6" y2="274.5" stroke="#222" stroke-width="0.8"/>
<text x="394.6" y="276.25" font-size="6.2" text-anchor="end" fill="#222" stroke="#222" stroke-width="0.15">5</text>
<line x1="397.3" y1="260.9" x2="400.6" y2="260.9" stroke="#222" stroke-width="0.8"/>
<text x="394.6" y="262.65" font-size="6.2" text-anchor="end" fill="#222" stroke="#222" stroke-width="0.15">6</text>
<line x1="397.3" y1="247.3" x2="400.6" y2="247.3" stroke="#222" stroke-width="0.8"/>
<text x="394.6" y="249.05" font-size="6.2" text-anchor="end" fill="#222" stroke="#222" stroke-width="0.15">7</text>
<line x1="400.6" y1="342.5" x2="400.6" y2="345.5" stroke="#222" stroke-width="0.8"/>
<text x="400.6" y="354.1" font-size="6.2" text-anchor="middle" fill="#222" stroke="#222" stroke-width="0.15">0.00</text>
<line x1="421.1" y1="342.5" x2="421.1" y2="345.5" stroke="#222" stroke-width="0.8"/>
<text x="421.1" y="354.1" font-size="6.2" text-anchor="middle" fill="#222" stroke="#222" stroke-width="0.15">50.00</text>
<line x1="441.6" y1="342.5" x2="441.6" y2="345.5" stroke="#222" stroke-width="0.8"/>
<text x="441.6" y="354.1" font-size="6.2" text-anchor="middle" fill="#222" stroke="#222" stroke-width="0.15">100.00</text>
<line x1="462.1" y1="342.5" x2="462.1" y2="345.5" stroke="#222" stroke-width="0.8"/>
<text x="462.1" y="354.1" font-size="6.2" text-anchor="middle" fill="#222" stroke="#222" stroke-width="0.15">150.00</text>
<line x1="482.6" y1="342.5" x2="482.6" y2="345.5" stroke="#222" stroke-width="0.8"/>
<text x="482.6" y="354.1" font-size="6.2" text-anchor="middle" fill="#222" stroke="#222" stroke-width="0.15">200.00</text>
<line x1="503.1" y1="342.5" x2="503.1" y2="345.5" stroke="#222" stroke-width="0.8"/>
<text x="503.1" y="354.1" font-size="6.2" text-anchor="middle" fill="#222" stroke="#222" stroke-width="0.15">250.00</text>
<line x1="424" y1="325.5" x2="489" y2="259" stroke="#4a94c8" stroke-width="0.6" stroke-dasharray="1 0.6"/>
<circle cx="424" cy="334.4" r="1.35" fill="#2c88bc"/>
<circle cx="425.4" cy="304.6" r="1.35" fill="#2c88bc"/>
<circle cx="432.4" cy="318.6" r="1.35" fill="#2c88bc"/>
<circle cx="444" cy="315" r="1.35" fill="#2c88bc"/>
<circle cx="449" cy="307.4" r="1.35" fill="#2c88bc"/>
<circle cx="489" cy="254" r="1.35" fill="#2c88bc"/>
<text x="431.6" y="262.7" font-size="6" fill="#222"><tspan font-style="italic">r</tspan> = 0.95</text>
<text x="454" y="365.9" font-size="8.4" text-anchor="middle" fill="#2e2e2e" stroke="#2e2e2e" stroke-width="0.22" textLength="78" lengthAdjust="spacingAndGlyphs">Fragment D densitometry (ng)</text>
<text x="385.8" y="292.7" font-size="8.1" text-anchor="middle" fill="#2e2e2e" stroke="#2e2e2e" stroke-width="0.22" textLength="65.5" lengthAdjust="spacingAndGlyphs" transform="rotate(-90 385.8 292.7)">Plasmin generation pM/s</text>
<rect x="0.5" y="0.5" width="519" height="373" fill="none" stroke="#555" stroke-width="1"/>
<rect x="0" y="372.7" width="520" height="1.3" fill="#484848"/>
</svg>
</body></html>
